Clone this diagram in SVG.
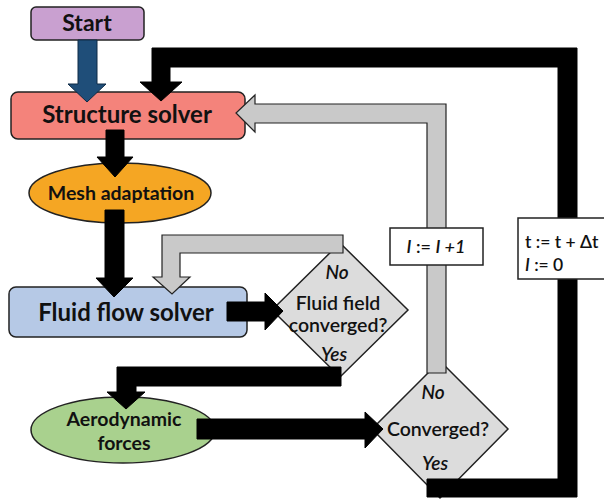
<svg xmlns="http://www.w3.org/2000/svg" width="604" height="501" viewBox="0 0 604 501">
<style>
  text { font-family: Lato, "Open Sans", "Liberation Sans", sans-serif; fill: #111; text-anchor: middle; }
  .b { font-weight: bold; }
  .m { font-weight: 600; }
  .i { font-style: italic; }
  .node { stroke: #222; stroke-width: 1.5; }
  .blk { fill: #000; stroke: #000; stroke-width: 1; }
  .gry { fill: #c9c9c9; stroke: #222; stroke-width: 1.2; }
  .blu { fill: #1f4e79; stroke: #0e2a46; stroke-width: 1; }
  .lbl { fill: #fff; stroke: #222; stroke-width: 1.5; }
</style>
<rect width="604" height="501" fill="#fff"/>

<g id="start"><rect class="node" x="31" y="7" width="113" height="33" rx="5" fill="#c9a0d0"/><text class="b" x="87" y="31" font-size="23">Start</text></g>
<g id="structure"><rect class="node" x="11" y="92" width="234" height="47" rx="7" fill="#f4837b"/><text class="b" x="127" y="123" font-size="24">Structure solver</text></g>
<g id="mesh"><ellipse class="node" cx="120" cy="193" rx="91" ry="30" fill="#f5a623"/><text class="b" x="121" y="200" font-size="19.5">Mesh adaptation</text></g>
<g id="fluid"><rect class="node" x="9" y="287" width="238" height="50" rx="7" fill="#b6c9e6"/><text class="b" x="126" y="321" font-size="24">Fluid flow solver</text></g>
<g id="fluidcheck"><polygon class="node" points="340,243 408,310 340,377 272,310" fill="#dcdcdc"/>
  <text class="i m" x="337" y="279" font-size="19">No</text>
  <text class="m" x="338" y="310" font-size="19.5">Fluid field</text>
  <text class="m" x="338" y="332" font-size="19.5">converged?</text>
  <text class="i m" x="334" y="361" font-size="19">Yes</text></g>
<g id="aero"><ellipse class="node" cx="123" cy="430" rx="92" ry="33" fill="#a9d18e"/><text class="b" x="124" y="426" font-size="19.5">Aerodynamic</text><text class="b" x="124" y="450" font-size="19.5">forces</text></g>
<g id="converged"><polygon class="node" points="440,361 508,429 440,498 372,429" fill="#dcdcdc"/>
  <text class="i m" x="433" y="399" font-size="19">No</text>
  <text class="m" x="438" y="436" font-size="19.5">Converged?</text>
  <text class="i m" x="435" y="470" font-size="19">Yes</text></g>

<g id="connectors">
  <polygon class="blu" points="78,40 78,84 68,84 87,102 106,84 97,84 97,40"/>
  <polygon class="blk" points="577,218 577,48 152,48 152,82 140,82 161,101 182,82 170,82 170,67 558,67 558,218"/>
  <polygon class="gry" points="427,373 427,123 255,123 255,132 236,113 255,95 255,104 446,104 446,373"/>
  <polygon class="blk" points="106,130 106,157 97,157 115,177 133,157 124,157 124,130"/>
  <polygon class="blk" points="105,210 105,278 96,278 114,297 133,278 124,278 124,210"/>
  <polygon class="gry" points="343,235 162,235 162,277 153,277 172,294 190,277 180,277 180,253 343,253"/>
  <polygon class="blk" points="227,302 265,302 265,293 283,311 265,330 265,321 227,321"/>
  <polygon class="blk" points="341,367 341,386 136,386 136,392 145,392 126,409 107,392 117,392 117,367"/>
  <polygon class="blk" points="197,419 365,419 365,412 383,429 365,448 365,439 197,439"/>
  <polygon class="blk" points="558,279 558,479 427,479 427,497 577,497 577,279"/>
</g>

<g id="iter"><rect class="lbl" x="390" y="228" width="93" height="37"/><text class="m" x="436" y="253" font-size="18"><tspan class="i">I</tspan> := <tspan class="i">I +1</tspan></text></g>
<g id="time"><rect class="lbl" x="518" y="218" width="100" height="61"/>
  <text class="m" x="525" y="248" font-size="17.5" style="text-anchor:start">t := t + Δt</text>
  <text class="m" x="525" y="271" font-size="17.5" style="text-anchor:start"><tspan class="i">I</tspan> := 0</text></g>
</svg>
